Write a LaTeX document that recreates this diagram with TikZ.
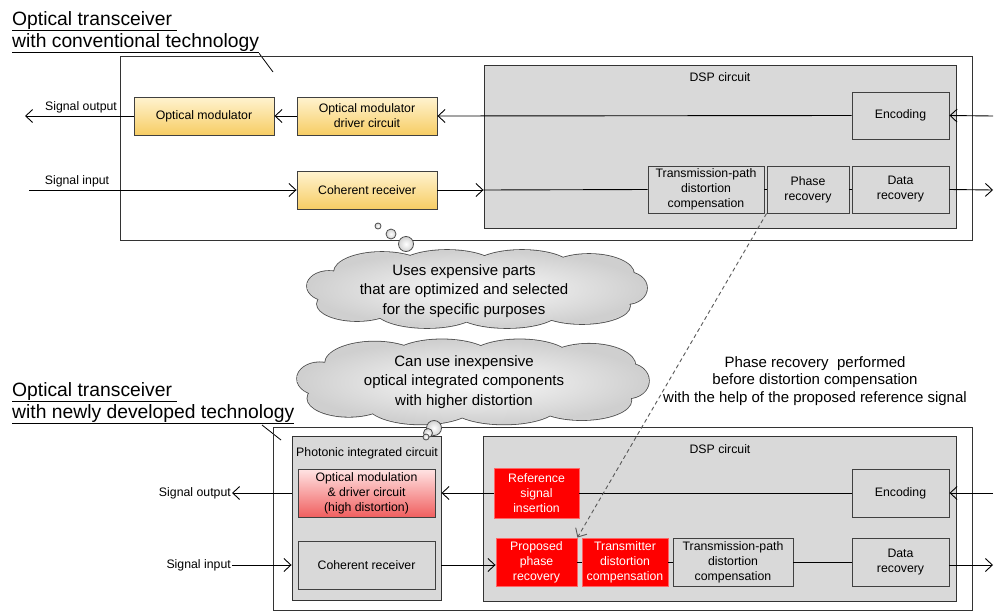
\documentclass[tikz,border=0pt]{standalone}
\usepackage{fontspec}
\setmainfont{Liberation Sans}
\usepackage{tikz}
\usetikzlibrary{arrows.meta}
\definecolor{dspgray}{RGB}{217,217,217}
\definecolor{boxline}{RGB}{64,64,64}
\definecolor{ylwtop}{RGB}{255,243,208}
\definecolor{ylwbot}{RGB}{247,205,100}
\definecolor{pnktop}{RGB}{255,228,228}
\definecolor{pnkbot}{RGB}{240,95,95}
\definecolor{hotred}{RGB}{255,0,0}
\newcommand\cldpuffs{0/0/145/30,-95/-18/48/20,-30/-22/50/18,45/-22/50/18,112/-16/45/20,150/-2/20/16,-148/-4/22/15,-120/14/40/17,-50/20/52/18,30/21/52/17,105/16/48/18}

\begin{document}
\begin{tikzpicture}[x=1pt,y=-1pt,
  frame/.style 2 args={draw=black!80,line width=0.9pt,minimum width=#1pt,minimum height=#2pt,inner sep=0pt},
  blk/.style 2 args={draw=boxline,line width=0.9pt,fill=dspgray,minimum width=#1pt,minimum height=#2pt,inner sep=1pt,align=center,font=\fontsize{12.3}{15}\selectfont},
  ylw/.style={top color=ylwtop,bottom color=ylwbot},
  pnk/.style={top color=pnktop,bottom color=pnkbot},
  hot/.style={fill=hotred,draw=hotred!60!white,text=white},
  lbl/.style={font=\fontsize{12.3}{15}\selectfont,inner sep=1pt},
  ttl/.style={font=\fontsize{19.3}{22}\selectfont,align=left,inner sep=0pt,anchor=north west},
  cldedge/.style={draw=gray!60!black,line width=1.6pt},
  cldfill/.style={inner color=gray!3,outer color=gray!38},
  cldtxt/.style={align=center,font=\fontsize{15}{19.5}\selectfont},
  bub/.style={circle,draw=gray!60!black,line width=0.8pt,inner color=white,outer color=gray!35,inner sep=0pt,minimum size=#1pt},
  arr/.style={-{Straight Barb[length=7pt,width=13pt]},line width=0.9pt}]
\useasboundingbox (0,0) rectangle (1000,613);

\node[ttl] (ttl1) at (12,11) {\underline{Optical transceiver\ }\\\underline{with conventional technology}};
\coordinate (tip1) at (273,72);
\draw[line width=0.8pt] (ttl1.south east) -- (tip1);
\node[frame={852}{184}] (trx1) at (546,148) {};
\node[frame={472}{163},fill=dspgray] (dsp1) at (720,146.5) {};
\node[lbl] (dspl1) at (720,77) {DSP circuit};

\node[blk={140}{38},ylw] (mod) at (204,116) {Optical modulator};
\node[blk={140}{38},ylw] (drv) at (367,116) {Optical modulator\\driver circuit};
\node[blk={140}{38},ylw] (rx1) at (367,190) {Coherent receiver};
\node[blk={97}{47}] (enc1) at (900.5,115.5) {Encoding};
\node[blk={116}{47}] (tpd1) at (706,189.5) {Transmission-path\\distortion\\compensation};
\node[blk={82}{47}] (phr1) at (808,189.5) {Phase\\recovery};
\node[blk={97}{47}] (dat1) at (900.5,189.5) {Data\\recovery};

\coordinate (in1) at (993,116);
\coordinate (out1) at (25,116);
\coordinate (in1b) at (29,190);
\coordinate (out1b) at (993,190);
\node[lbl] (sout1) at (81,107) {Signal output};
\node[lbl] (sin1) at (77,181) {Signal input};
\draw[arr] (in1) -- (enc1.east);
\draw[arr] (enc1.west) -- (drv.east);
\draw[arr] (drv.west) -- (mod.east);
\draw[arr] (mod.west) -- (out1);
\draw[arr] (in1b) -- (rx1.west);
\draw[arr] (rx1.east) -- (dsp1.west |- rx1.east);
\draw[line width=0.9pt] (dsp1.west |- rx1.east) -- (tpd1.west);
\draw[line width=0.9pt] (tpd1) -- (phr1) -- (dat1);
\draw[arr] (dat1.east) -- (out1b);

\node[ttl] (ttl2) at (12,382) {\underline{Optical transceiver\ }\\\underline{with newly developed technology}};
\coordinate (ld2a) at (262,425);
\coordinate (ld2b) at (281,440);
\draw[line width=0.8pt] (ld2a) -- (ld2b);
\node[frame={699}{183}] (trx2) at (622.5,518.5) {};
\node[frame={149}{164},fill=dspgray] (pic) at (366.5,518) {};
\node[lbl] (picl) at (367,453) {Photonic integrated circuit};
\node[frame={473}{165},fill=dspgray] (dsp2) at (719.5,518.5) {};
\node[lbl] (dspl2) at (720,449) {DSP circuit};

\node[blk={137}{48},pnk] (omd) at (366.5,493) {Optical modulation\\\& driver circuit\\(high distortion)};
\node[blk={137}{48}] (rx2) at (366.5,565) {Coherent receiver};
\node[blk={85}{50},hot] (ref) at (536.5,493) {Reference\\signal\\insertion};
\node[blk={97}{48}] (enc2) at (900.5,493) {Encoding};
\node[blk={81}{48},hot] (ppr) at (536.5,562) {Proposed\\phase\\recovery};
\node[blk={86}{48},hot] (txd) at (625,562) {Transmitter\\distortion\\compensation};
\node[blk={120}{48}] (tpd2) at (733,562) {Transmission-path\\distortion\\compensation};
\node[blk={97}{48}] (dat2) at (900.5,562) {Data\\recovery};

\coordinate (in2) at (993,493);
\coordinate (out2b) at (993,565);
\node[lbl,anchor=east] (sout2) at (232,493) {Signal output};
\node[lbl,anchor=east] (sin2) at (232,565) {Signal input};
\draw[arr] (in2) -- (enc2.east);
\draw[line width=0.9pt] (enc2.west) -- (ref.east);
\draw[arr] (ref.west) -- (pic.east |- ref.west);
\draw[arr] (pic.west |- sout2.east) -- (sout2.east);
\draw[arr] (sin2.east) -- (pic.west |- sin2.east);
\draw[arr] (pic.east |- rx2.east) -- (ppr.west |- rx2.east);
\draw[line width=0.9pt] (ppr) -- (txd) -- (tpd2) -- (dat2);
\draw[arr] (dat2.east |- out2b) -- (out2b);

\draw[arr,dash pattern=on 4pt off 3pt,draw=gray!70!black] (phr1.south west) -- (ppr.north east);

\begin{scope}[shift={(477,290)}]
  \path[cldedge] \foreach \px/\py/\rx/\ry in \cldpuffs {(\px,\py) ellipse [x radius=\rx pt,y radius=\ry pt]};
  \path[cldfill] \foreach \px/\py/\rx/\ry in \cldpuffs {(\px,\py) ellipse [x radius=\rx pt,y radius=\ry pt]};
\end{scope}
\node[cldtxt] (cldt1) at (464,291) {Uses expensive parts\\that are optimized and selected\\for the specific purposes};
\begin{scope}[shift={(473,383)},xscale=1.035,yscale=1.09]
  \path[cldedge] \foreach \px/\py/\rx/\ry in \cldpuffs {(\px,\py) ellipse [x radius=\rx pt,y radius=\ry pt]};
  \path[cldfill] \foreach \px/\py/\rx/\ry in \cldpuffs {(\px,\py) ellipse [x radius=\rx pt,y radius=\ry pt]};
\end{scope}
\node[cldtxt] (cldt2) at (464,382) {Can use inexpensive\\optical integrated components\\with higher distortion};
\foreach \n/\bx/\by/\d in {1/378/226/6,2/391/234/10,3/406/244/15,4/434/428/15,5/428/433/9,6/426/437/6}
  \node[bub=\d] (tb\n) at (\bx,\by) {};

\node[align=center,font=\fontsize{15}{17.5}\selectfont] (note) at (815,381) {Phase recovery\ \ performed\\before distortion compensation\\with the help of the proposed reference signal};
\end{tikzpicture}
\end{document}
